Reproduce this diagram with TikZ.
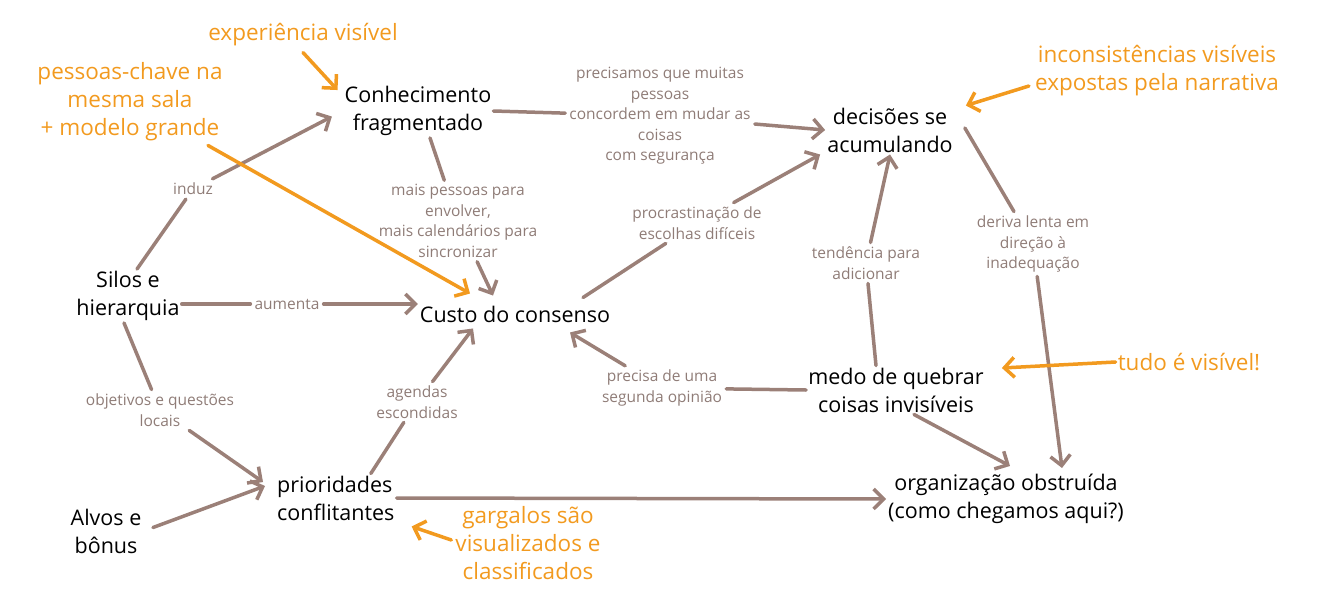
\documentclass[tikz,border=0pt]{standalone}
\usepackage{fontspec}
\setmainfont{Open Sans}
\usetikzlibrary{arrows.meta,calc}
\definecolor{brn}{HTML}{9B8078}
\definecolor{lbl}{HTML}{8F7C77}
\definecolor{orng}{HTML}{F29A1F}
\tikzset{
  mainbox/.style={align=center,font=\fontsize{21.5}{28}\selectfont,text=black,inner sep=2pt},
  notebox/.style={align=center,font=\fontsize{22.5}{28}\selectfont,text=orng,inner sep=2pt},
  labbox/.style={align=center,font=\fontsize{15.5}{20.5}\selectfont,text=lbl,inner sep=4pt},
  seg/.style={draw=brn,line width=3.5pt,line cap=round},
  conn/.style={seg,-{Straight Barb[length=10pt,width=20pt]}},
  oarr/.style={draw=orng,line width=3.5pt,line cap=round,-{Straight Barb[length=10pt,width=20pt]}},
}
\begin{document}
\begin{tikzpicture}[x=1pt,y=-1pt]
\useasboundingbox (0,0) rectangle (1327,592);
% main nodes
\node[mainbox] (conh) at (418,111) {Conhecimento\\fragmentado};
\node[mainbox] (dec) at (890,130) {decisões se\\acumulando};
\node[mainbox] (silos) at (128,296) {Silos e\\hierarquia};
\node[mainbox] (custo) at (515,314) {Custo do consenso};
\node[mainbox] (medo) at (896,390) {medo de quebrar\\coisas invisíveis};
\node[mainbox,align=left,anchor=west] (prio) at (275,498) {prioridades\\conflitantes};
\node[mainbox] (alvos) at (106,531) {Alvos e\\bônus};
\node[mainbox] (orgn) at (1006,499) {organização obstruída\\(como chegamos aqui?)};
% orange notes
\node[notebox] (exp) at (303,35) {experiência visível};
\node[notebox] (pess) at (130,102) {pessoas-chave na\\mesma sala\\+ modelo grande};
\node[notebox] (inc) at (1157,71) {inconsistências visíveis\\expostas pela narrativa};
\node[notebox] (tudo) at (1189,362) {tudo é visível!};
\node[notebox] (garg) at (528,543) {gargalos são\\visualizados e\\classificados};
% labels
\node[labbox] (lprec) at (660,116) {precisamos que muitas\\pessoas\\concordem em mudar as\\coisas\\com segurança};
\node[labbox] (linduz) at (193,189) {induz};
\node[labbox] (lmais) at (458,221) {mais pessoas para\\envolver,\\mais calendários para\\sincronizar};
\node[labbox] (lproc) at (697,223) {procrastinação de\\escolhas difíceis};
\node[labbox] (ltend) at (866,263) {tendência para\\adicionar};
\node[labbox] (lderiva) at (1033,244) {deriva lenta em\\direção à\\inadequação};
\node[labbox] (laum) at (287,304) {aumenta};
\node[labbox] (lprecisa) at (662,388) {precisa de uma\\segunda opinião};
\node[labbox] (lobj) at (160,410) {objetivos e questões\\locais};
\node[labbox] (lagen) at (417,402) {agendas\\escondidas};
% brown connectors
\draw[seg] ($(silos.north)+(9,0)$) -- (linduz);
\draw[conn,shorten >=12pt] (linduz) -- (conh.west);
\draw[seg] (laum -| silos.east) -- (laum);
\draw[conn] (laum) -- (laum -| custo.west);
\draw[seg] ($(silos.south)+(-4,0)$) -- (lobj);
\draw[conn] (lobj) -- ($(prio.west)+(-12,-16)$);
\draw[seg] ($(conh.south)+(12,0)$) -- (lmais);
\draw[conn] (lmais) -- ($(custo.north)+(-22,-8)$);
\draw[seg] (conh.east) -- (lprec);
\draw[conn] (lprec) -- (dec.west);
\draw[seg] ($(custo.north)+(68,-6)$) -- (lproc);
\draw[conn] (lproc) -- ($(dec.south west)+(-5,0)$);
\draw[seg] ($(medo.north)+(-20,0)$) -- (ltend);
\draw[conn] (ltend) -- (dec.south);
\draw[seg] ($(dec.east)+(10,-2)$) -- (lderiva);
\draw[conn] (lderiva) -- ($(orgn.north)+(56,-4)$);
\draw[seg] (medo.west) -- (lprecisa);
\draw[conn] (lprecisa) -- ($(custo.south)+(55,8)$);
\draw[conn] ($(medo.south)+(18,0)$) -- ($(orgn.north)+(4,-6)$);
\draw[seg] ($(prio.north)+(35,0)$) -- (lagen);
\draw[conn] (lagen) -- ($(custo.south)+(-42,4)$);
\draw[conn] (prio.east) -- (orgn.west);
\draw[conn,shorten <=10pt] (alvos.east) -- ($(prio.west)+(-10,-12)$);
% orange arrows
\draw[oarr] ($(exp.south)+(0,4)$) -- ($(conh.north west)+(-5,6)$);
\draw[oarr] ($(pess.south)+(78,2)$) -- ($(custo.north)+(-45,-10)$);
\draw[oarr] ($(inc.west)+(-4,15)$) -- ($(dec.north east)+(11,0)$);
\draw[oarr] (tudo.west) -- ($(medo.east)+(16,-22)$);
\draw[oarr] ($(garg.west)+(-2,-3)$) -- ($(prio.south east)+(15,4)$);
\end{tikzpicture}
\end{document}
